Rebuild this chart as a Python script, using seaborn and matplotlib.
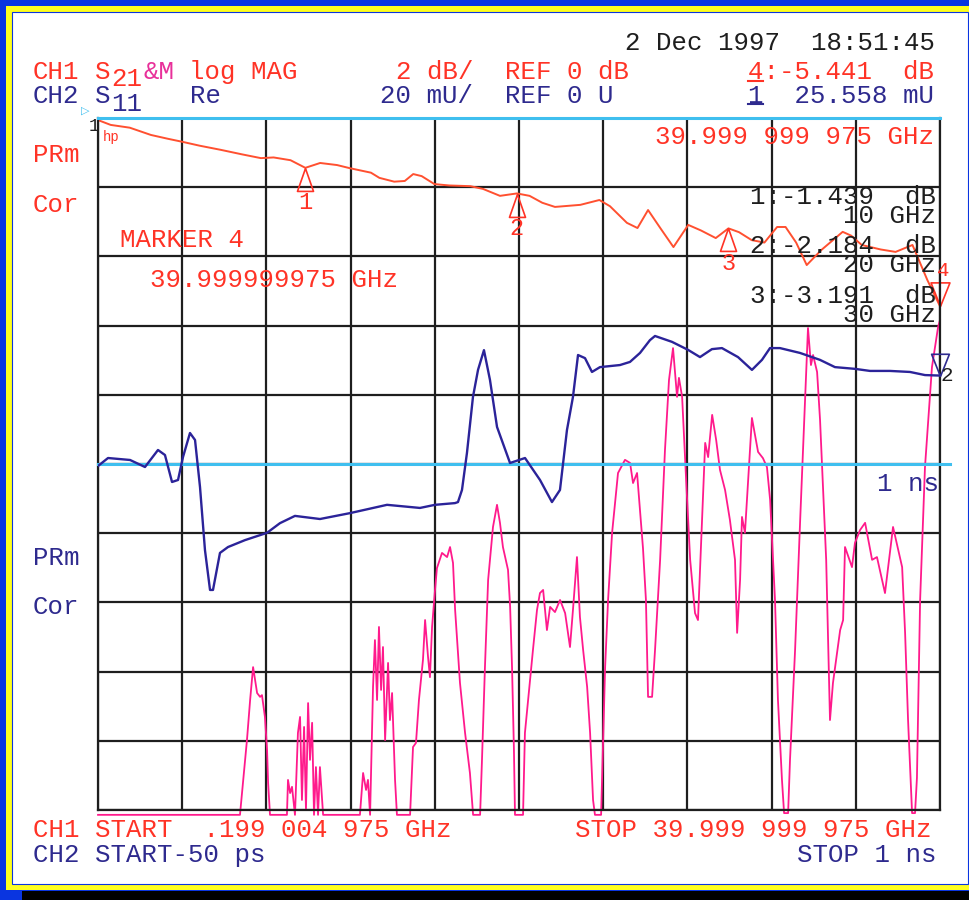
import matplotlib
matplotlib.use("Agg")
import matplotlib.pyplot as plt
from matplotlib.patches import Rectangle
from matplotlib.lines import Line2D
import numpy as np
import seaborn as sns

# CH1 S21 log MAG (GHz, dB)
s21_ghz = [0.2, 0.8, 1.7, 2.7, 3.5, 4.2, 5.0, 6.0, 7.0, 7.9, 8.5, 9.3, 10.0, 10.7, 11.5, 12.1,
           13.1, 13.5, 14.2, 14.7, 15.1, 15.5, 16.1, 16.8, 17.8, 18.4, 19.2, 20.0, 20.6, 21.2,
           21.8, 23.0, 23.9, 24.4, 25.2, 25.7, 26.2, 26.8, 27.4, 28.1, 28.7, 29.4, 30.0, 30.5,
           31.1, 31.7, 32.3, 32.7, 33.2, 33.7, 34.4, 35.4, 35.8, 36.3, 37.2, 37.9, 38.7, 39.4, 40.0]
s21_db = [-0.06, -0.2, -0.28, -0.49, -0.6, -0.69, -0.8, -0.92, -1.05, -1.16, -1.14, -1.22, -1.44,
          -1.30, -1.36, -1.45, -1.58, -1.73, -1.84, -1.82, -1.62, -1.68, -1.91, -1.95, -1.97,
          -2.05, -2.25, -2.18, -2.25, -2.45, -2.57, -2.51, -2.37, -2.55, -3.03, -3.18, -2.66,
          -3.2, -3.73, -3.09, -3.25, -3.47, -3.19, -3.3, -3.53, -3.6, -3.15, -3.15, -3.6, -4.25,
          -3.81, -3.29, -3.4, -3.67, -3.8, -3.87, -3.67, -4.68, -5.44]

# memory trace (GHz, dB)
mem_ghz = [0.20, 6.91, 7.24, 7.39, 7.53, 7.72, 7.86, 7.95, 8.09, 8.19, 8.24, 8.33,
           9.13, 9.18, 9.28, 9.37, 9.51, 9.65, 9.75, 9.84, 9.94, 10.03, 10.13, 10.22, 10.32, 10.41,
           10.50, 10.60, 10.69, 10.84,
           12.58, 12.73, 12.87, 12.96, 13.06, 13.20, 13.29, 13.39, 13.48, 13.58, 13.67, 13.77,
           13.91, 14.00, 14.10, 14.24, 14.33,
           14.95, 15.09, 15.23, 15.37, 15.56, 15.66, 15.80, 15.89, 15.99, 16.13, 16.22, 16.46,
           16.70, 16.84, 16.98, 17.08, 17.31, 17.55, 17.78, 17.93,
           18.26, 18.35, 18.49, 18.64, 18.87, 19.06, 19.20, 19.34, 19.58, 19.68, 19.77, 19.86, 19.91,
           20.29, 20.38, 20.62, 20.76, 20.95, 21.09, 21.24, 21.42, 21.57, 21.80, 22.04, 22.28,
           22.51, 22.65, 22.84, 22.98, 23.13, 23.32, 23.46, 23.60, 23.69,
           23.98, 24.02, 24.17, 24.31, 24.50, 24.78, 25.11, 25.35, 25.49, 25.68, 25.82, 25.96,
           26.10, 26.20, 26.39, 26.53, 26.77, 27.00, 27.19, 27.38, 27.57, 27.66, 27.81, 28.00,
           28.19, 28.42, 28.56, 28.75, 28.90, 29.04, 29.23, 29.42, 29.60, 29.84, 30.07, 30.31,
           30.41, 30.55, 30.64, 30.78, 31.11, 31.40, 31.63, 31.82, 31.97, 32.20, 32.34, 32.53,
           32.63, 32.82, 32.91, 33.15, 33.39, 33.62, 33.76, 33.90, 34.00, 34.19, 34.33, 34.62,
           34.80, 34.94, 35.28, 35.42, 35.51, 35.84, 35.98, 36.22, 36.46, 36.79, 37.02, 37.40,
           37.78, 38.21, 38.35, 38.49, 38.68, 38.82, 38.91, 39.06, 39.29, 39.62, 39.91, 40.00]
mem_db = [-20.14, -20.14, -17.98, -16.82, -15.87, -16.62, -16.73, -16.68, -17.31, -18.26, -19.22, -20.14,
          -20.14, -19.13, -19.51, -19.33, -20.14, -17.77, -17.31, -19.71, -17.60, -20.00, -16.91,
          -18.55, -17.48, -20.14, -18.76, -20.14, -18.76, -20.14,
          -20.14, -18.93, -19.42, -19.13, -20.14, -16.44, -15.09, -16.82, -14.71, -16.53, -15.29,
          -17.98, -15.75, -17.40, -16.62, -19.13, -20.14,
          -20.14, -18.18, -18.06, -16.82, -15.66, -14.51, -15.58, -16.16, -14.71, -13.64, -13.01,
          -12.57, -12.69, -12.40, -12.86, -14.22, -16.33, -17.77, -18.93, -20.14,
          -20.14, -18.55, -15.87, -13.35, -11.82, -11.18, -11.70, -12.40, -13.06, -14.13, -15.87,
          -18.26, -20.14,
          -20.14, -17.77, -16.24, -15.37, -14.22, -13.73, -13.64, -14.80, -14.13, -14.28, -13.93,
          -14.31, -15.29, -14.22, -12.69, -14.42, -15.37, -16.44, -17.77, -19.71, -20.14,
          -20.14, -19.22, -15.87, -13.93, -11.99, -10.26, -9.88, -9.97, -10.55, -10.26, -11.33,
          -12.43, -13.93, -16.73, -16.73, -15.37, -12.77, -9.59, -7.57, -6.65, -8.06, -7.51,
          -8.06, -10.46, -12.77, -14.31, -14.51, -11.62, -9.39, -9.80, -8.58, -9.31, -10.17,
          -10.75, -11.62, -12.77, -14.88, -13.35, -11.53, -11.99, -8.67, -9.65, -9.83, -10.09,
          -11.04, -13.93, -16.82, -19.13, -20.09, -20.09, -18.55, -15.37, -11.62, -8.15, -6.07,
          -7.14, -6.85, -7.34, -8.73, -12.77, -17.40, -16.33, -14.80, -14.51, -12.40, -12.98,
          -12.28, -11.91, -11.70, -12.77, -12.69, -13.73, -11.82, -12.98, -14.88, -17.40, -20.09,
          -20.09, -19.07, -13.93, -10.09, -7.20, -6.04, -5.84]

# CH2 S11 Re (ns, mU)
s11_ns = [-0.050, -0.0375, -0.010, 0.0086, 0.0248, 0.0335, 0.0423, 0.0498, 0.056, 0.0647, 0.071,
          0.0772, 0.0834, 0.0897, 0.0934, 0.1021, 0.1121, 0.1333, 0.1607, 0.1769, 0.1956, 0.2268,
          0.2642, 0.3104, 0.3515, 0.3702, 0.3952, 0.3989, 0.4039, 0.4101, 0.4176, 0.4239, 0.4313,
          0.4388, 0.4476, 0.4638, 0.4825, 0.5012, 0.5161, 0.5261, 0.5348, 0.5423, 0.5486, 0.5573,
          0.566, 0.576, 0.6009, 0.6134, 0.6259, 0.6383, 0.6446, 0.6658, 0.6857, 0.7007, 0.7156,
          0.7281, 0.7481, 0.7655, 0.778, 0.788, 0.8004, 0.8254, 0.8503, 0.869, 0.8939, 0.9127,
          0.9376, 0.9626, 0.9813, 1.000]
s11_mu = [-0.58, 1.73, 1.16, -0.87, 4.05, 2.6, -5.2, -4.62, 2.02, 8.96, 6.94, -6.65, -24.9, -36.4,
          -36.4, -25.7, -24.0, -22.0, -19.9, -17.1, -15.0, -15.9, -14.2, -11.8, -12.7, -11.8, -11.3,
          -11.0, -7.5, 3.2, 19.4, 27.2, 32.9, 24.3, 10.7, 0.29, 1.73, -4.62, -11.0, -7.5, 9.8,
          19.4, 31.5, 30.6, 26.6, 28.0, 28.6, 29.5, 32.1, 35.8, 37.0, 35.3, 33.0, 30.9, 33.2, 33.5,
          30.9, 27.2, 30.1, 33.5, 33.5, 32.1, 30.1, 28.0, 27.5, 26.9, 26.9, 26.6, 25.7, 25.558]

mk_ghz = [10, 20, 30]
mk_db = [-1.439, -2.184, -3.191]
mk_names = ["1", "2", "3"]
mk_read = ["1:-1.439  dB\n      10 GHz", "2:-2.184  dB\n      20 GHz", "3:-3.191  dB\n      30 GHz"]

RED = "#ff3326"
TRACE_RED = "#ff5030"
NAVY = "#2e2a8e"
TRACE_BLUE = "#2b2399"
PINK = "#ff1a8c"
CYAN = "#3fbfef"
BLK = "#1e1e1e"

W, H = 970, 900
fig = plt.figure(figsize=(9.7, 9.0), dpi=100)
fig.patch.set_facecolor("#0a35e0")
fig.patches.append(Rectangle((6 / W, 10 / H), 1 - 6 / W, 884 / H, transform=fig.transFigure,
                             facecolor="#ffff1e", edgecolor="none", zorder=-3))
fig.patches.append(Rectangle((12 / W, 16 / H), 956 / W, 872 / H, transform=fig.transFigure,
                             facecolor="white", edgecolor="#0a35e0", lw=0.8, zorder=-2))
fig.patches.append(Rectangle((22 / W, 0), 1, 9 / H, transform=fig.transFigure,
                             facecolor="black", edgecolor="none", zorder=-2))

left, right, top, bot = 98, 940, 118, 810
pos = [left / W, 1 - bot / H, (right - left) / W, (bot - top) / H]
ax = fig.add_axes(pos)
ax2 = fig.add_axes(pos, facecolor="none")

ax.set_xlim(0.199, 40.0)
ax.set_ylim(-20, 0)
ax.set_xticks(np.linspace(0.199, 40.0, 11))
ax.set_yticks(np.arange(-20, 1, 2))
ax.grid(True, color=BLK, lw=1.6)
ax.set_axisbelow(True)
ax.tick_params(length=0, labelbottom=False, labelleft=False)
for s in ax.spines.values():
    s.set_color(BLK)
    s.set_linewidth(1.6)
ax.spines["top"].set_color(CYAN)
ax.spines["top"].set_linewidth(2.2)

ax2.set_xlim(-0.05, 1.0)
ax2.set_ylim(-100, 100)
ax2.axis("off")
ax2.axhline(0, xmin=0, xmax=1.012, color=CYAN, lw=2.2, clip_on=False)

sns.lineplot(x=mem_ghz, y=mem_db, ax=ax, color=PINK, lw=1.3, estimator=None, sort=False, clip_on=False)
sns.lineplot(x=s21_ghz, y=s21_db, ax=ax, color=TRACE_RED, lw=1.4, estimator=None, sort=False)
sns.lineplot(x=s11_ns, y=s11_mu, ax=ax2, color=TRACE_BLUE, lw=1.7, estimator=None, sort=False)

# markers
up_tri = [(0, 0), (-0.35, -1), (0.35, -1), (0, 0)]
dn_tri = [(0, 0), (-0.4, 1), (0.4, 1), (0, 0)]
ax.plot(mk_ghz, mk_db, ls="none", marker=up_tri, ms=33, mfc="none", mec=RED, mew=1.2)
for g, d, n in zip(mk_ghz, mk_db, mk_names):
    ax.annotate(n, (g, d), xytext=(0, -25), textcoords="offset points", ha="center", va="center",
                color=RED, fontsize=17, family="Liberation Mono")
ax.plot([40.0], [-5.441], ls="none", marker=dn_tri, ms=34, mfc="none", mec=RED, mew=1.2, clip_on=False)
ax.annotate("4", (40.0, -5.441), xytext=(2, 26), textcoords="offset points", ha="center",
            va="center", color=RED, fontsize=15, family="Liberation Mono", annotation_clip=False)
ax2.plot([1.0], [25.558], ls="none", marker=dn_tri, ms=32, mfc="none", mec=NAVY, mew=1.2, clip_on=False)
ax2.annotate("2", (1.0, 25.558), xytext=(5, 0), textcoords="offset points", ha="center",
             va="center", color=BLK, fontsize=15, family="Liberation Mono", annotation_clip=False)


def put(x, y, s, c, fs=18.5, ha="left", **kw):
    fig.text(x / W, 1 - (y + 7) / H, s, color=c, fontsize=fs, ha=ha, va="baseline",
             family="Liberation Mono", **kw)


def uline(x0, x1, y, c):
    fig.add_artist(Line2D([x0 / W, x1 / W], [1 - y / H, 1 - y / H], color=c, lw=1.5))


put(625, 43, "2 Dec 1997  18:51:45", BLK)
put(33, 72, "CH1", RED)
put(95, 72, "S", RED)
put(111, 79, "21", RED)
put(143, 72, "&M", "#e8309a")
put(189, 72, "log MAG", RED)
put(396, 72, "2 dB/", RED)
put(505, 72, "REF 0 dB", RED)
put(748, 72, "4:-5.441  dB", RED)
uline(748, 763, 81, RED)
put(33, 96, "CH2", NAVY)
put(95, 96, "S", NAVY)
put(111, 104, "11", NAVY)
put(190, 96, "Re", NAVY)
put(380, 96, "20 mU/", NAVY)
put(505, 96, "REF 0 U", NAVY)
put(748, 96, "1  25.558 mU", NAVY)
uline(748, 763, 104, NAVY)

put(33, 155, "PRm", RED)
put(33, 205, "Cor", RED)
put(120, 240, "MARKER 4", RED)
put(150, 280, "39.999999975 GHz", RED)
put(655, 137, "39.999 999 975 GHz", RED)

# marker readouts, two lines each, as on the analyser screen
for ry, s in zip([216, 265, 315], mk_read):
    put(750, ry, s, BLK, linespacing=0.74)

put(89, 124, "1", BLK, fs=13)
put(103, 134, "hp", RED, fs=10)
fig.text(85 / W, 1 - 111 / H, "\u25b7", color=CYAN, fontsize=8, ha="center", va="center")

put(33, 558, "PRm", NAVY)
put(33, 607, "Cor", NAVY)
put(877, 484, "1 ns", NAVY)

put(33, 830, "CH1 START  .199 004 975 GHz", RED)
put(575, 830, "STOP 39.999 999 975 GHz", RED)
put(33, 855, "CH2 START-50 ps", NAVY)
put(797, 855, "STOP 1 ns", NAVY)

fig.savefig("out.png", dpi=100, facecolor=fig.get_facecolor())
